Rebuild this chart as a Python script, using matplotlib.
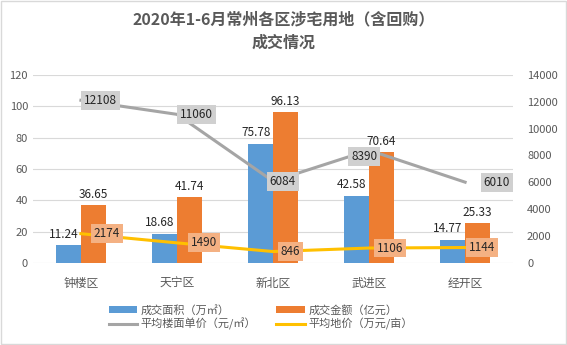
import numpy as np
import matplotlib.pyplot as plt

plt.rcParams['font.family'] = ['Noto Sans CJK SC', 'DejaVu Sans']

districts = ["钟楼区", "天宁区", "新北区", "武进区", "经开区"]
area = [11.24, 18.68, 75.78, 42.58, 14.77]        # 成交面积（万㎡）
amount = [36.65, 41.74, 96.13, 70.64, 25.33]      # 成交金额（亿元）
floor_price = [12108, 11060, 6084, 8390, 6010]    # 平均楼面单价（元/㎡）
land_price = [2174, 1490, 846, 1106, 1144]        # 平均地价（万元/亩）

BLUE = "#5B9BD5"; ORANGE = "#ED7D31"; GREY = "#A5A5A5"; YELLOW = "#FFC000"
TXT = "#595959"

fig = plt.figure(figsize=(5.67, 3.45), dpi=100)
ax = fig.add_axes([0.058, 0.238, 0.847, 0.545])
ax2 = ax.twinx()

x = np.arange(len(districts))
w = 0.26
b1 = ax.bar(x - w / 2, area, w, color=BLUE, label="成交面积（万㎡）", zorder=2)
b2 = ax.bar(x + w / 2, amount, w, color=ORANGE, label="成交金额（亿元）", zorder=2)
for xi, v in zip(x - w / 2, area):
    ax.text(xi - 0.05, v + 3, f"{v:.2f}", ha="center", va="bottom", fontsize=8.5, color="#262626")
for xi, v in zip(x + w / 2, amount):
    ax.text(xi, v + 3, f"{v:.2f}", ha="center", va="bottom", fontsize=8.5, color="#262626")

ax.set_ylim(0, 120)
ax.set_yticks(range(0, 121, 20))
ax.set_xlim(-0.5, 4.5)
ax.set_xticks(x)
ax.set_xticklabels(districts)
ax.grid(axis="y", color="#D9D9D9", lw=0.8, zorder=0)
ax.set_axisbelow(True)

l1, = ax2.plot(x, floor_price, color=GREY, lw=2.2, label="平均楼面单价（元/㎡）", zorder=3)
l2, = ax2.plot(x, land_price, color=YELLOW, lw=2.2, label="平均地价（万元/亩）", zorder=3)
ax2.set_ylim(0, 14000)
ax2.set_yticks(range(0, 14001, 2000))

# data label offsets (category units, value units) for the two line series
fp_dx = [0.2, 0.2, 0.1, -0.05, 0.33]
fp_dy = [0, 0, 0, -450, 0]
lp_dx = [0.27, 0.28, 0.18, 0.22, 0.18]
for xi, v, dx, dy in zip(x, floor_price, fp_dx, fp_dy):
    ax2.text(xi + dx, v + dy, str(v), ha="center", va="center", fontsize=8.5, color="#262626", zorder=5,
             bbox=dict(boxstyle="square,pad=0.25", fc="#D0D0D0", ec="none"))
for xi, v, dx in zip(x, land_price, lp_dx):
    ax2.text(xi + dx, v, str(v), ha="center", va="center", fontsize=8.5, color="#262626", zorder=5,
             bbox=dict(boxstyle="square,pad=0.25", fc="#F4B183", ec="none"))

for a in (ax, ax2):
    for s in a.spines.values():
        s.set_visible(False)
    a.tick_params(length=0, labelsize=8, colors=TXT)
ax.tick_params(axis="x", labelsize=8.5, pad=10)
ax2.tick_params(axis="y", pad=10)

fig.text(0.5, 0.945, "2020年1-6月常州各区涉宅用地（含回购）", ha="center", va="center",
         fontsize=11.5, fontweight="bold", color=TXT)
fig.text(0.5, 0.875, "成交情况", ha="center", va="center",
         fontsize=11.5, fontweight="bold", color=TXT)

# column-major fill: rows become (面积, 金额) and (楼面单价, 地价)
fig.legend(handles=[b1, l1, b2, l2], loc="center", bbox_to_anchor=(0.46, 0.08), ncol=2,
           frameon=False, fontsize=8, labelcolor=TXT, handlelength=2.6, handleheight=0.6,
           columnspacing=1.8, handletextpad=0.3, labelspacing=0.2)

fig.patches.append(plt.Rectangle((0.002, 0.003), 0.996, 0.994, transform=fig.transFigure,
                                 fill=False, ec="#D9D9D9", lw=1))
fig.savefig("out.png", dpi=100)
